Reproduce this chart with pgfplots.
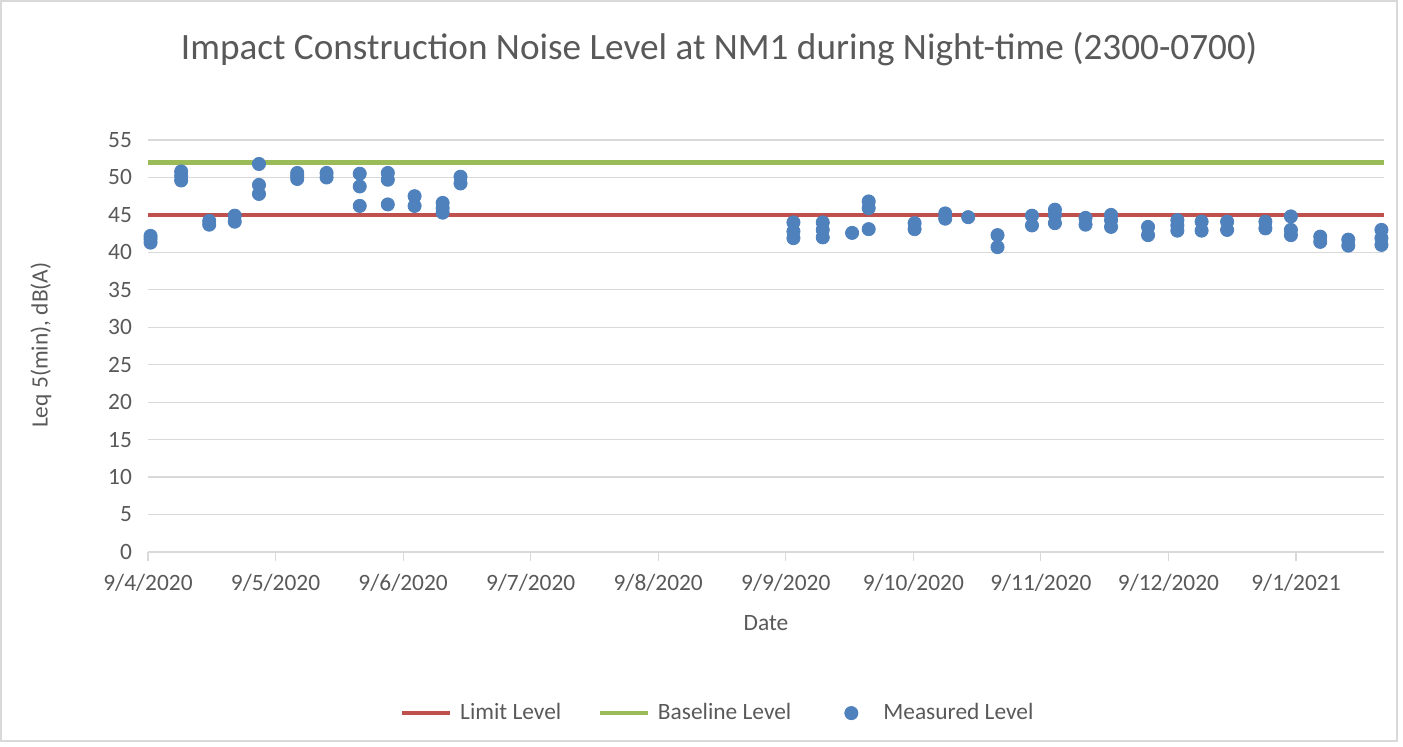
\documentclass[border=0pt]{standalone}
\usepackage{pgfplots}
\pgfplotsset{compat=1.18}
\usepackage{fontspec}
\setmainfont{Carlito}
\definecolor{limitred}{HTML}{C0504D}
\definecolor{basegreen}{HTML}{9BBB59}
\definecolor{measblue}{HTML}{4F81BD}
\definecolor{gridgray}{HTML}{D9D9D9}
\definecolor{textgray}{HTML}{595959}
\pgfplotsset{
  lineleg/.style={legend image code/.code={\draw[##1] (0pt,0pt) -- (24pt,0pt);}},
  dotleg/.style={legend image code/.code={\path[draw=none,fill=none] (0pt,-1pt) rectangle (24pt,1pt); \draw[##1, mark repeat=2, mark phase=2] plot coordinates {(0pt,0pt) (12pt,0pt) (24pt,0pt)};}},
}
\begin{document}
\begin{tikzpicture}
\useasboundingbox (0,0) rectangle (701.5pt,373pt);
\draw[gridgray, line width=0.6pt] (0.5pt,2.5pt) rectangle (698.5pt,372.5pt);
\begin{axis}[
  at={(74pt,97pt)}, anchor=south west,
  scale only axis, width=618pt, height=206pt,
  xmin=0, xmax=9.69, ymin=0, ymax=55,
  clip=false,
  ytick={0,5,...,55},
  xtick={0,1,2,3,4,5,6,7,8,9},
  xticklabels={9/4/2020,9/5/2020,9/6/2020,9/7/2020,9/8/2020,9/9/2020,9/10/2020,9/11/2020,9/12/2020,9/1/2021},
  ymajorgrids, grid style={gridgray, line width=0.6pt},
  axis lines*=left,
  y axis line style={draw=none},
  x axis line style={gridgray, line width=0.6pt},
  xtick style={gridgray, line width=0.6pt},
  ytick style={draw=none},
  tick align=outside, major tick length=4.5pt,
  /pgf/number format/assume math mode=true,
  ticklabel style={font=\fontsize{11.7}{14}\selectfont, text=textgray},
  xticklabel style={yshift=-3pt},
  title={Impact Construction Noise Level at NM1 during Night-time (2300-0700)},
  title style={at={(axis description cs:0.462,1.192)}, anchor=center, font=\fontsize{18.6}{22}\selectfont, text=textgray},
  xlabel={Date},
  ylabel={Leq 5(min), dB(A)},
  every axis x label/.style={at={(axis description cs:0.5,-0.172)}, anchor=center, font=\fontsize{11.7}{14}\selectfont, text=textgray},
  every axis y label/.style={at={(axis description cs:-0.0866,0.502)}, anchor=center, rotate=90, font=\fontsize{11.7}{14}\selectfont, text=textgray},
  legend columns=3,
  legend style={at={(axis description cs:0.4616,-0.391)}, anchor=center, draw=none, fill=none,
    font=\fontsize{11.7}{14}\selectfont, text=textgray,
    /tikz/every odd column/.append style={column sep=2pt},
    /tikz/every even column/.append style={column sep=16pt}},
]
\addplot[limitred, line width=2.3pt, lineleg] coordinates {(0,45) (9.69,45)};
\addlegendentry{Limit Level}
\addplot[basegreen, line width=2.3pt, lineleg] coordinates {(0,52) (9.69,52)};
\addlegendentry{Baseline Level}
\addplot[only marks, mark=*, mark size=3.3pt, color=measblue, mark options={fill=measblue, draw=measblue}, dotleg]
  table {
x y
0.02 42.2
0.02 41.8
0.02 41.3
0.26 50.8
0.26 50.2
0.26 49.6
0.48 44.2
0.48 43.7
0.68 44.9
0.68 44.1
0.87 51.8
0.87 49.0
0.87 47.8
1.17 50.6
1.17 50.2
1.17 49.8
1.40 50.6
1.40 50.0
1.66 50.5
1.66 48.8
1.66 46.2
1.88 50.6
1.88 49.7
1.88 46.4
2.09 47.5
2.09 46.2
2.31 46.6
2.31 45.9
2.31 45.3
2.45 50.1
2.45 49.2
5.06 44.0
5.06 42.8
5.06 41.9
5.29 44.0
5.29 43.0
5.29 42.0
5.52 42.6
5.65 46.8
5.65 45.9
5.65 43.1
6.01 43.9
6.01 43.1
6.25 45.2
6.25 44.5
6.43 44.7
6.66 42.3
6.66 40.7
6.93 44.9
6.93 43.6
7.11 45.7
7.11 45.0
7.11 43.9
7.35 44.6
7.35 43.7
7.55 45.0
7.55 44.3
7.55 43.4
7.84 43.4
7.84 42.3
8.07 44.3
8.07 43.6
8.07 42.9
8.26 44.1
8.26 42.9
8.46 44.1
8.46 43.0
8.76 44.1
8.76 43.2
8.96 44.8
8.96 43.0
8.96 42.3
9.19 42.1
9.19 41.4
9.41 41.7
9.41 40.9
9.67 43.0
9.67 41.9
9.67 41.0
};
\addlegendentry{Measured Level}
\end{axis}
\end{tikzpicture}
\end{document}
